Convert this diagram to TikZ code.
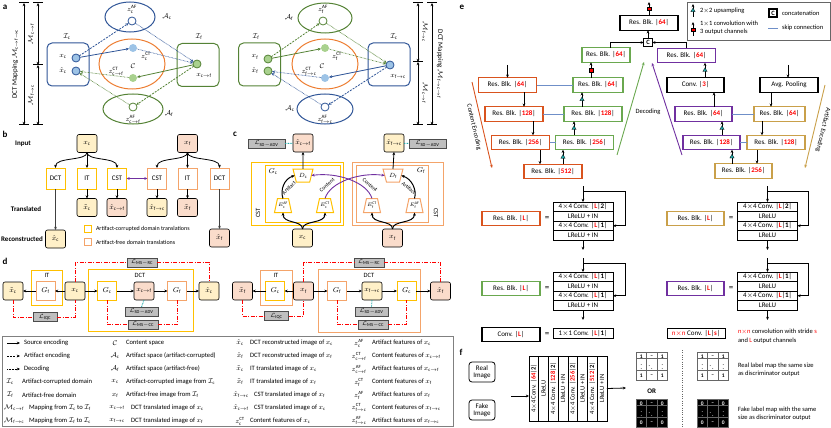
\documentclass[tikz,border=0pt]{standalone}
\usepackage{fontspec}
\setmainfont{Carlito}
\usepackage{amsmath}
\usetikzlibrary{arrows.meta,shapes.geometric,calc}
\definecolor{cblue}{HTML}{2F5597}
\definecolor{lblue}{HTML}{9DC3E6}
\definecolor{cgreen}{HTML}{548235}
\definecolor{lgreen}{HTML}{A9D18E}
\definecolor{corange}{HTML}{ED7D31}
\definecolor{cyel}{HTML}{FFC000}
\definecolor{fyel}{HTML}{FFF0C8}
\definecolor{cora}{HTML}{F4A46A}
\definecolor{fpink}{HTML}{FADCCB}
\definecolor{cpurp}{HTML}{7030A0}
\definecolor{cred}{HTML}{FF0000}
\definecolor{encred}{HTML}{D9531E}
\definecolor{decgreen}{HTML}{6AA84F}
\definecolor{gold}{HTML}{C9A04A}
\definecolor{lossfill}{HTML}{BFBFBF}
\definecolor{tealc}{HTML}{1FA8A8}
\definecolor{skipblue}{HTML}{6F8FC8}
\newcommand\myfs[1]{\fontsize{#1}{#1}\selectfont}
\newcommand\rd[1]{\textcolor{cred}{\textbf{#1}}}
\newcommand\resblk[1]{Res. Blk. |\rd{#1}|}
\newcommand\labgrid[6]{%
  \foreach \rr/\cc/\tv in {0/0/#6,0/1/{--},0/2/#6,1/0/{$\vdots$},1/1/{$\ddots$},1/2/{$\vdots$},2/0/#6,2/1/{--},2/2/#6}{
    \node[gcell, fill=#4, text=#5] (#1-\rr-\cc) at ({#2+5.25+10.5*\cc},{#3+4.65+9.3*\rr}) {\tv};
  }}
\begin{document}
\begin{tikzpicture}[x=1pt,y=-1pt,>={Stealth[length=3.2pt,width=2.8pt]},
 every node/.style={inner sep=0pt, outer sep=0pt},
 plab/.style={font=\bfseries\myfs{9}},
 ml/.style={font=\myfs{7}},
 lsym/.style={font=\myfs{6.8}},
 domrect/.style={draw=#1, line width=1pt, rounded corners=5pt, minimum width=42pt, minimum height=43pt},
 spc/.style={ellipse, draw=#1, line width=1pt},
 ptc/.style={circle, draw=#1, line width=0.8pt, minimum size=8pt},
 srcA/.style={->, line width=0.8pt, draw=#1},
 artA/.style={->, line width=0.8pt, draw=#1, dash pattern=on 2pt off 1.2pt},
 decA/.style={->, line width=0.7pt, draw=#1, dash pattern=on 0.6pt off 0.8pt},
 imgbox/.style={draw=black, line width=0.6pt, rounded corners=2pt, fill=#1, minimum width=20pt, minimum height=18pt, font=\myfs{7}},
 opbox/.style={draw=#1, line width=1pt, fill=white, minimum width=19pt, minimum height=21pt, font=\myfs{7}},
 gbox/.style={draw=#1, line width=1pt, fill=white, minimum width=19pt, minimum height=18.5pt, font=\myfs{7}},
 frm/.style={draw=#1, line width=1pt},
 loss/.style={draw=black!70, fill=lossfill, line width=0.6pt, minimum height=9pt, font=\myfs{6.5}},
 redl/.style={draw=cred, line width=0.8pt, dash pattern=on 4pt off 1.5pt on 1pt off 1.5pt},
 tealdot/.style={draw=tealc, line width=0.9pt, dash pattern=on 0.8pt off 0.8pt},
 blk/.style={->, line width=0.8pt},
 rbx/.style={draw=#1, line width=1.2pt, fill=white, minimum width=58pt, minimum height=14.5pt, font=\myfs{7}},
 scell/.style={draw=black, line width=0.7pt, fill=white, minimum width=60pt, minimum height=9.5pt, font=\myfs{7}},
 tri/.style={regular polygon, regular polygon sides=3, fill=tealc, draw=black, line width=0.3pt, minimum size=5pt},
 rsq/.style={fill=cred, draw=black, line width=0.3pt, minimum size=3.5pt},
 skipc/.style={draw=skipblue, line width=0.9pt},
 fcol/.style={draw=black, line width=0.7pt, minimum width=9.75pt, minimum height=65pt},
 gcell/.style={draw=black!60, line width=0.6pt, minimum width=10.5pt, minimum height=9.3pt, font=\bfseries\myfs{5.5}},
 leg/.style={font=\myfs{6.6}, anchor=west},
 trapD/.style={trapezium, draw=#1, line width=1pt, fill=white, shape border rotate=180, trapezium stretches=true, trapezium left angle=68, trapezium right angle=68, minimum width=20pt, minimum height=13pt, font=\myfs{6.5}},
 trapE/.style={trapezium, draw=#1, line width=1pt, fill=white, trapezium stretches=true, trapezium left angle=68, trapezium right angle=68, minimum width=17pt, minimum height=14pt, font=\myfs{5.5}},
]
\useasboundingbox (0,0) rectangle (831,428);

%================ PANEL A =================
\node[plab] (la) at (5,7) {a};
\coordinate (dl1t) at (24,3); \coordinate (dl1b) at (24,125);
\draw[line width=1pt] (19,3) -- (29,3) (19,125) -- (29,125);
\draw[<->, line width=0.8pt] (dl1t) -- (dl1b);
\coordinate (dl2t) at (38,3); \coordinate (dl2m) at (38,65); \coordinate (dl2b) at (38,125);
\draw[line width=1pt] (33,3) -- (43,3) (33,65) -- (43,65) (33,125) -- (43,125);
\draw[<->, line width=0.8pt] (dl2t) -- (dl2m);
\draw[<->, line width=0.8pt] (dl2m) -- (dl2b);
\node[rotate=90, ml] (dlt1) at (15,64) {DCT Mapping $\mathcal{M}_{\mathrm{c\to f\to c}}$};
\node[rotate=90, ml] (dlt2) at (31,34) {$\mathcal{M}_{\mathrm{c\to f}}$};
\node[rotate=90, ml] (dlt3) at (31,95) {$\mathcal{M}_{\mathrm{f\to c}}$};
\coordinate (dr1t) at (432,3); \coordinate (dr1b) at (432,125);
\draw[line width=1pt] (427,3) -- (437,3) (427,125) -- (437,125);
\draw[<->, line width=0.8pt] (dr1t) -- (dr1b);
\coordinate (dr2t) at (418,3); \coordinate (dr2m) at (418,62); \coordinate (dr2b) at (418,125);
\draw[line width=1pt] (413,3) -- (423,3) (413,62) -- (423,62) (413,125) -- (423,125);
\draw[<->, line width=0.8pt] (dr2t) -- (dr2m);
\draw[<->, line width=0.8pt] (dr2m) -- (dr2b);
\node[rotate=-90, ml] (drt1) at (440,64) {DCT Mapping $\mathcal{M}_{\mathrm{f\to c\to f}}$};
\node[rotate=-90, ml] (drt2) at (425,32) {$\mathcal{M}_{\mathrm{f\to c}}$};
\node[rotate=-90, ml] (drt3) at (425,93) {$\mathcal{M}_{\mathrm{c\to f}}$};

\node[domrect=cblue] (aIc) at (68,64.5) {};
\node[ml] (aIcl) at (67,37) {$\mathcal{I}_\mathrm{c}$};
\node[spc=cblue, minimum width=50pt, minimum height=30pt] (aAc) at (130,17) {};
\node[ml] (aAcl) at (167,17) {$\mathcal{A}_\mathrm{c}$};
\node[spc=corange, minimum width=66pt, minimum height=50pt] (aC) at (132,64) {};
\node[ml] (aCl) at (133,66) {$\mathcal{C}$};
\node[domrect=cgreen] (aIf) at (198,65) {};
\node[ml] (aIfl) at (199,37) {$\mathcal{I}_\mathrm{f}$};
\node[spc=cgreen, minimum width=60pt, minimum height=30pt] (aAf) at (133,109) {};
\node[ml] (aAfl) at (169,114) {$\mathcal{A}_\mathrm{f}$};

\node[ptc=cblue, fill=lblue] (axc) at (76,58) {};
\node[ptc=cblue, fill=lblue] (axhc) at (76,71) {};
\node[ml] (axcl) at (63,57) {$x_\mathrm{c}$};
\node[ml] (axhcl) at (63,71) {$\hat{x}_\mathrm{c}$};
\node[ptc=cblue, fill=white] (azcAF) at (132,21) {};
\node[ml] (azcAFl) at (132,9) {$z_\mathrm{c}^\mathrm{AF}$};
\node[circle, fill=lblue, minimum size=8pt] (azcCT) at (133,48) {};
\node[ml] (azcCTl) at (146,56) {$z_\mathrm{c}^\mathrm{CT}$};
\node[circle, fill=lgreen, minimum size=8pt] (azcfCT) at (133,78) {};
\node[ml] (azcfCTl) at (116,71) {$z_{\mathrm{c\to f}}^\mathrm{CT}$};
\node[ptc=cgreen, fill=lgreen] (axcf) at (197,64) {};
\node[ml] (axcfl) at (204,76) {$x_{\mathrm{c\to f}}$};
\node[ptc=cgreen, fill=white] (azcfAF) at (133,107) {};
\node[ml] (azcfAFl) at (133,119) {$z_{\mathrm{c\to f}}^\mathrm{AF}$};

\draw[artA=cblue] (axc) -- (azcAF);
\draw[srcA=cblue] (axc) -- (azcCT);
\draw[decA=cblue] (azcAF) -- (axcf);
\draw[decA=cblue] (azcCT) -- (axcf);
\draw[srcA=cgreen] (axcf) -- (azcfCT);
\draw[artA=cgreen] (axcf) -- (azcfAF);
\draw[decA=cgreen] (azcfCT) -- (axhc);
\draw[decA=cgreen] (azcfAF) -- (axhc);

\node[domrect=cgreen] (bIf) at (259.5,64.5) {};
\node[ml] (bIfl) at (256,37) {$\mathcal{I}_\mathrm{f}$};
\node[spc=cgreen, minimum width=54pt, minimum height=30pt] (bAf) at (325,18) {};
\node[ml] (bAfl) at (289,18) {$\mathcal{A}_\mathrm{f}$};
\node[spc=corange, minimum width=66pt, minimum height=50pt] (bC) at (325,64) {};
\node[ml] (bCl) at (322,66) {$\mathcal{C}$};
\node[domrect=cblue] (bIc) at (389,64.5) {};
\node[ml] (bIcl) at (394,37) {$\mathcal{I}_\mathrm{c}$};
\node[spc=cblue, minimum width=56pt, minimum height=30pt] (bAc) at (325,109) {};
\node[ml] (bAcl) at (290,109) {$\mathcal{A}_\mathrm{c}$};

\node[ptc=cgreen, fill=lgreen] (bxf) at (268,59) {};
\node[ptc=cgreen, fill=lgreen] (bxhf) at (268,71) {};
\node[ml] (bxfl) at (255,57) {$x_\mathrm{f}$};
\node[ml] (bxhfl) at (255,71) {$\hat{x}_\mathrm{f}$};
\node[ptc=cgreen, fill=white] (bzfAF) at (323,21) {};
\node[ml] (bzfAFl) at (323,9) {$z_\mathrm{f}^\mathrm{AF}$};
\node[circle, fill=lgreen, minimum size=8pt] (bzfCT) at (325,48) {};
\node[ml] (bzfCTl) at (337,56) {$z_\mathrm{f}^\mathrm{CT}$};
\node[circle, fill=lblue, minimum size=8pt] (bzfcCT) at (325,78) {};
\node[ml] (bzfcCTl) at (309,71) {$z_{\mathrm{f\to c}}^\mathrm{CT}$};
\node[ptc=cblue, fill=lblue] (bxfc) at (390,65) {};
\node[ml] (bxfcl) at (398,77) {$x_{\mathrm{f\to c}}$};
\node[ptc=cblue, fill=white] (bzfcAF) at (325,107) {};
\node[ml] (bzfcAFl) at (325,119) {$z_{\mathrm{f\to c}}^\mathrm{AF}$};

\draw[artA=cgreen] (bxf) -- (bzfAF);
\draw[srcA=cgreen] (bxf) -- (bzfCT);
\draw[decA=cgreen] (bzfAF) -- (bxfc);
\draw[decA=cgreen] (bzfCT) -- (bxfc);
\draw[srcA=cblue] (bxfc) -- (bzfcCT);
\draw[artA=cblue] (bxfc) -- (bzfcAF);
\draw[decA=cblue] (bzfcCT) -- (bxhf);
\draw[decA=cblue] (bzfcAF) -- (bxhf);

%================ PANEL B =================
\node[plab] (lb) at (5,134) {b};
\node[font=\bfseries\myfs{7}] (bInput) at (23,144) {Input};
\node[font=\bfseries\myfs{7}] (bTrans) at (26,209) {Translated};
\node[font=\bfseries\myfs{7}] (bRecon) at (22,239) {Reconstructed};

\node[imgbox=fyel] (pxc) at (87,143.5) {$x_\mathrm{c}$};
\node[imgbox=fpink] (pxf) at (187.5,143.5) {$x_\mathrm{f}$};
\node[opbox=cyel] (pdctc) at (55.5,178.5) {DCT};
\node[opbox=cyel] (pitc) at (87,178.5) {IT};
\node[opbox=cyel] (pcstc) at (117,178.5) {CST};
\node[opbox=cora] (pcstf) at (157,178.5) {CST};
\node[opbox=cora] (pitf) at (187.5,178.5) {IT};
\node[opbox=cora] (pdctf) at (219.5,178.5) {DCT};
\node[imgbox=fyel] (ptc) at (87,207.5) {$\tilde{x}_\mathrm{c}$};
\node[imgbox=fpink] (phcf) at (117,207.5) {$\hat{x}_{\mathrm{c\to f}}$};
\node[imgbox=fyel] (phfc) at (157,207.5) {$\hat{x}_{\mathrm{f\to c}}$};
\node[imgbox=fpink] (ptf) at (187.5,207.5) {$\tilde{x}_\mathrm{f}$};
\node[imgbox=fyel] (prc) at (55.5,239) {$\hat{x}_\mathrm{c}$};
\node[imgbox=fpink] (prf) at (219.5,238) {$\hat{x}_\mathrm{f}$};

\draw[blk] (pxc.south) .. controls (87,161) and (55.5,157) .. (pdctc.north);
\draw[blk] (pxc.south) -- (pitc.north);
\draw[blk] (pxc.south) .. controls (87,161) and (117,157) .. (pcstc.north);
\draw[blk] (pxf.south) .. controls (187.5,161) and (157,157) .. (pcstf.north);
\draw[blk] (pxf.south) -- (pitf.north);
\draw[blk] (pxf.south) .. controls (187.5,161) and (219.5,157) .. (pdctf.north);
\draw[blk] (pitc) -- (ptc);
\draw[blk] (pcstc) -- (phcf);
\draw[blk] (pcstf) -- (phfc);
\draw[blk] (pitf) -- (ptf);
\draw[->, line width=0.8pt, draw=black!75] (pdctc) -- (prc);
\draw[->, line width=0.8pt, draw=black!75] (pdctf) -- (prf);
\draw[<->, line width=1pt, draw=cpurp] (pcstc) -- (pcstf);

\node[draw=cyel, line width=0.9pt, minimum size=7pt] (pkey1) at (88,229) {};
\node[draw=cora, line width=0.9pt, minimum size=7pt] (pkey2) at (88,242) {};
\node[font=\myfs{6}, anchor=west] (pkey1t) at (96,229) {Artifact-corrupted domain translations};
\node[font=\myfs{6}, anchor=west] (pkey2t) at (96,242) {Artifact-free domain translations};

%================ PANEL C =================
\node[plab] (lc) at (235,134) {c};
\node[frm=cyel, minimum width=92pt, minimum height=63pt] (cfo1) at (297,193.5) {};
\node[frm=cyel, minimum width=75pt, minimum height=57pt] (cfi1) at (302.5,193.5) {};
\node[frm=cora, minimum width=91pt, minimum height=63pt] (cfo2) at (397.5,193.5) {};
\node[frm=cora, minimum width=72pt, minimum height=57pt] (cfi2) at (392,193.5) {};
\node[rotate=90, font=\myfs{6.5}, fill=white] (ccst1) at (258,213) {CST};
\node[rotate=-90, font=\myfs{6.5}, fill=white] (ccst2) at (436,213) {CST};
\node[ml] (cGc) at (273,172) {$G_\mathrm{c}$};
\node[ml] (cGf) at (421,171) {$G_\mathrm{f}$};

\node[loss, minimum width=37pt] (cL1) at (266.5,144) {$\mathcal{L}_{\mathrm{SD-ADV}}$};
\node[imgbox=fpink] (cxhcf) at (303,143) {$\hat{x}_{\mathrm{c\to f}}$};
\node[imgbox=fyel] (cxhfc) at (394,143) {$\hat{x}_{\mathrm{f\to c}}$};
\node[loss, minimum width=37pt] (cL2) at (427.5,144) {$\mathcal{L}_{\mathrm{SD-ADV}}$};
\draw[tealdot] (cL1) -- (cxhcf);
\draw[tealdot] (cxhfc) -- (cL2);

\node[trapD=cyel] (cDc) at (303,175.5) {$D_\mathrm{c}$};
\node[trapD=cora] (cDf) at (393,175.5) {$D_\mathrm{f}$};
\node[trapE=cyel] (cEcAF) at (283,205.5) {$E_\mathrm{c}^\mathrm{AF}$};
\node[trapE=cyel] (cEcCT) at (325,205.5) {$E_\mathrm{c}^\mathrm{CT}$};
\node[trapE=cora] (cEfCT) at (372,205.5) {$E_\mathrm{f}^\mathrm{CT}$};
\node[trapE=cora] (cEfAF) at (414.5,205.5) {$E_\mathrm{f}^\mathrm{AF}$};
\node[imgbox=fyel] (cxc) at (302.5,238) {$x_\mathrm{c}$};
\node[imgbox=fpink] (cxf) at (392.5,238) {$x_\mathrm{f}$};

\draw[blk] (cDc.north) -- (cxhcf.south);
\draw[blk] (cDf.north) -- (cxhfc.south);
\draw[->, line width=1pt] (cEcAF.north) .. controls (280,190) and (284,179) .. (cDc.west);
\draw[->, line width=1pt] (cEfAF.north) .. controls (417,190) and (412,179) .. (cDf.east);
\draw[->, line width=0.9pt, draw=cpurp] (cEcCT.north) .. controls (330,182) and (360,172) .. (cDf.west);
\draw[->, line width=0.9pt, draw=cpurp] (cEfCT.north) .. controls (367,182) and (337,172) .. (cDc.east);
\node[font=\myfs{5.5}, rotate=45] (cart1) at (289,188) {Artifact};
\node[font=\myfs{5.5}, rotate=40] (ccon1) at (327,185) {Content};
\node[font=\myfs{5.5}, rotate=-40] (ccon2) at (370,185) {Content};
\node[font=\myfs{5.5}, rotate=-40] (cart2) at (409,188) {Artifact};
\draw[->, line width=1pt] (cxc.north) .. controls (302.5,220) and (283,224) .. (cEcAF.south);
\draw[->, line width=1pt] (cxc.north) .. controls (302.5,220) and (325,224) .. (cEcCT.south);
\draw[->, line width=1pt] (cxf.north) .. controls (392.5,220) and (372,224) .. (cEfCT.south);
\draw[->, line width=1pt] (cxf.north) .. controls (392.5,220) and (414.5,224) .. (cEfAF.south);

%================ PANEL D =================
\node[plab] (ld) at (5,261) {d};
\node[frm=cyel, minimum width=31pt, minimum height=35pt] (dITc) at (46.5,287.5) {};
\node[font=\myfs{6.5}] (dITcl) at (47,275) {IT};
\node[frm=cyel, minimum width=105pt, minimum height=62pt] (dDCTc) at (140.5,300) {};
\node[font=\myfs{6.5}] (dDCTcl) at (140,275) {DCT};
\node[imgbox=fyel] (dxtc) at (13,291) {$\tilde{x}_\mathrm{c}$};
\node[gbox=cora] (dGf1) at (45.5,291) {$G_\mathrm{f}$};
\node[imgbox=fyel] (dxc) at (75,291) {$x_\mathrm{c}$};
\node[gbox=cyel] (dGc1) at (107,291) {$G_\mathrm{c}$};
\node[imgbox=fpink] (dxcf) at (144,291) {$x_{\mathrm{c\to f}}$};
\node[gbox=cora] (dGf2) at (177,291) {$G_\mathrm{f}$};
\node[imgbox=fyel] (dxhc) at (209,291) {$\hat{x}_\mathrm{c}$};
\draw[blk] (dxc) -- (dGf1); \draw[blk] (dGf1) -- (dxtc);
\draw[blk] (dxc) -- (dGc1); \draw[blk] (dGc1) -- (dxcf);
\draw[blk] (dxcf) -- (dGf2); \draw[blk] (dGf2) -- (dxhc);
\node[loss, minimum width=30pt] (dL1) at (142,262.5) {$\mathcal{L}_{\mathrm{MS-RC}}$};
\node[loss, minimum width=24pt] (dL2) at (45,317) {$\mathcal{L}_{\mathrm{IQC}}$};
\node[loss, minimum width=33pt] (dL3) at (141.5,311.5) {$\mathcal{L}_{\mathrm{SD-ADV}}$};
\node[loss, minimum width=30pt] (dL4) at (143,324.5) {$\mathcal{L}_{\mathrm{MS-CC}}$};
\draw[redl] (dxc.north) |- (dL1.west);
\draw[redl] (dL1.east) -| (dxhc.north);
\draw[redl] (dxtc.south) |- (dL2.west);
\draw[redl] (dL2.east) -| (dxc.south);
\draw[tealdot] (dxcf.south) -- (dL3.north);
\draw[redl] (dGc1.south) |- (dL4.west);
\draw[redl] (dL4.east) -| (dGf2.south);

\node[frm=cora, minimum width=32pt, minimum height=35pt] (dITf) at (276,287.5) {};
\node[font=\myfs{6.5}] (dITfl) at (276,275) {IT};
\node[frm=cora, minimum width=102pt, minimum height=63pt] (dDCTf) at (369,300.5) {};
\node[font=\myfs{6.5}] (dDCTfl) at (369,275) {DCT};
\node[imgbox=fpink] (dxtf) at (242.5,291) {$\tilde{x}_\mathrm{f}$};
\node[gbox=cyel] (dGc2) at (275,291) {$G_\mathrm{c}$};
\node[imgbox=fpink] (dxf) at (303.5,291) {$x_\mathrm{f}$};
\node[gbox=cora] (dGf3) at (337,291) {$G_\mathrm{f}$};
\node[imgbox=fyel] (dxfc) at (372,291) {$x_{\mathrm{f\to c}}$};
\node[gbox=cyel] (dGc3) at (406.5,291) {$G_\mathrm{c}$};
\node[imgbox=fpink] (dxhf) at (440.5,291) {$\hat{x}_\mathrm{f}$};
\draw[blk] (dxf) -- (dGc2); \draw[blk] (dGc2) -- (dxtf);
\draw[blk] (dxf) -- (dGf3); \draw[blk] (dGf3) -- (dxfc);
\draw[blk] (dxfc) -- (dGc3); \draw[blk] (dGc3) -- (dxhf);
\node[loss, minimum width=30pt] (dL5) at (369,262.5) {$\mathcal{L}_{\mathrm{MS-RC}}$};
\node[loss, minimum width=24pt] (dL6) at (276.5,316) {$\mathcal{L}_{\mathrm{IQC}}$};
\node[loss, minimum width=33pt] (dL7) at (371.5,311.5) {$\mathcal{L}_{\mathrm{SD-ADV}}$};
\node[loss, minimum width=30pt] (dL8) at (373,324.5) {$\mathcal{L}_{\mathrm{MS-CC}}$};
\draw[redl] (dxf.north) |- (dL5.west);
\draw[redl] (dL5.east) -| (dxhf.north);
\draw[redl] (dxtf.south) |- (dL6.west);
\draw[redl] (dL6.east) -| (dxf.south);
\draw[tealdot] (dxfc.south) -- (dL7.north);
\draw[redl] (dGf3.south) |- (dL8.west);
\draw[redl] (dL8.east) -| (dGc3.south);

%================ LEGEND =================
\node[draw=black!50, line width=0.8pt, minimum width=451pt, minimum height=90pt] (legbox) at (227.5,381) {};
\coordinate (lg1a) at (7,343); \coordinate (lg1b) at (20,343);
\coordinate (lg2a) at (7,356); \coordinate (lg2b) at (20,356);
\coordinate (lg3a) at (7,369); \coordinate (lg3b) at (20,369);
\draw[->, line width=1pt] (lg1a) -- (lg1b);
\draw[->, line width=1pt, dash pattern=on 2pt off 1.2pt] (lg2a) -- (lg2b);
\draw[->, line width=0.9pt, dash pattern=on 0.7pt off 0.8pt] (lg3a) -- (lg3b);
\node[leg] (lt11) at (24,343) {Source encoding};
\node[leg] (lt12) at (24,356) {Artifact encoding};
\node[leg] (lt13) at (24,369) {Decoding};
\node[lsym] (ls14) at (10,382) {$\mathcal{I}_\mathrm{c}$};
\node[leg] (lt14) at (22,382) {Artifact-corrupted domain};
\node[lsym] (ls15) at (10,395) {$\mathcal{I}_\mathrm{f}$};
\node[leg] (lt15) at (22,395) {Artifact-free domain};
\node[lsym] (ls16) at (14,407.5) {$\mathcal{M}_{\mathrm{c\to f}}$};
\node[leg] (lt16) at (29,407.5) {Mapping from $\mathcal{I}_\mathrm{c}$ to $\mathcal{I}_\mathrm{f}$};
\node[lsym] (ls17) at (14,420.5) {$\mathcal{M}_{\mathrm{f\to c}}$};
\node[leg] (lt17) at (29,420.5) {Mapping from $\mathcal{I}_\mathrm{f}$ to $\mathcal{I}_\mathrm{c}$};

\node[lsym] (ls21) at (115,343) {$\mathcal{C}$};
\node[leg] (lt21) at (126,343) {Content space};
\node[lsym] (ls22) at (115,356) {$\mathcal{A}_\mathrm{c}$};
\node[leg] (lt22) at (126,356) {Artifact space (artifact-corrupted)};
\node[lsym] (ls23) at (115,369) {$\mathcal{A}_\mathrm{f}$};
\node[leg] (lt23) at (126,369) {Artifact space (artifact-free)};
\node[lsym] (ls24) at (115,382) {$x_\mathrm{c}$};
\node[leg] (lt24) at (126,382) {Artifact-corrupted image from $\mathcal{I}_\mathrm{c}$};
\node[lsym] (ls25) at (115,395) {$x_\mathrm{f}$};
\node[leg] (lt25) at (126,395) {Artifact-free image from $\mathcal{I}_\mathrm{f}$};
\node[lsym] (ls26) at (117,407.5) {$x_{\mathrm{c\to f}}$};
\node[leg] (lt26) at (131,407.5) {DCT translated image of $x_\mathrm{c}$};
\node[lsym] (ls27) at (117,420.5) {$x_{\mathrm{f\to c}}$};
\node[leg] (lt27) at (131,420.5) {DCT translated image of $x_\mathrm{f}$};

\node[lsym] (ls31) at (240,343) {$\hat{x}_\mathrm{c}$};
\node[leg] (lt31) at (250,343) {DCT reconstructed image of $x_\mathrm{c}$};
\node[lsym] (ls32) at (240,356) {$\hat{x}_\mathrm{f}$};
\node[leg] (lt32) at (250,356) {DCT reconstructed image of $x_\mathrm{f}$};
\node[lsym] (ls33) at (240,369) {$\tilde{x}_\mathrm{c}$};
\node[leg] (lt33) at (250,369) {IT translated image of $x_\mathrm{c}$};
\node[lsym] (ls34) at (240,382) {$\tilde{x}_\mathrm{f}$};
\node[leg] (lt34) at (250,382) {IT translated image of $x_\mathrm{f}$};
\node[lsym] (ls35) at (241,395) {$\hat{x}_{\mathrm{f\to c}}$};
\node[leg] (lt35) at (254,395) {CST translated image of $x_\mathrm{f}$};
\node[lsym] (ls36) at (241,407.5) {$\hat{x}_{\mathrm{c\to f}}$};
\node[leg] (lt36) at (254,407.5) {CST translated image of $x_\mathrm{c}$};
\node[lsym] (ls37) at (240,421) {$z_\mathrm{c}^\mathrm{CT}$};
\node[leg] (lt37) at (250,420.5) {Content features of $x_\mathrm{c}$};

\node[lsym] (ls41) at (359,343) {$z_\mathrm{c}^\mathrm{AF}$};
\node[leg] (lt41) at (372,343) {Artifact features of $x_\mathrm{c}$};
\node[lsym] (ls42) at (359,356) {$z_{\mathrm{c\to f}}^\mathrm{CT}$};
\node[leg] (lt42) at (372,356) {Content features of $x_{\mathrm{c\to f}}$};
\node[lsym] (ls43) at (359,369) {$z_{\mathrm{c\to f}}^\mathrm{AF}$};
\node[leg] (lt43) at (372,369) {Artifact features of $x_{\mathrm{c\to f}}$};
\node[lsym] (ls44) at (359,382) {$z_\mathrm{f}^\mathrm{CT}$};
\node[leg] (lt44) at (372,382) {Content features of $x_\mathrm{f}$};
\node[lsym] (ls45) at (359,395) {$z_\mathrm{f}^\mathrm{AF}$};
\node[leg] (lt45) at (372,395) {Artifact features of $x_\mathrm{f}$};
\node[lsym] (ls46) at (359,407.5) {$z_{\mathrm{f\to c}}^\mathrm{CT}$};
\node[leg] (lt46) at (372,407.5) {Content features of $x_{\mathrm{f\to c}}$};
\node[lsym] (ls47) at (359,420.5) {$z_{\mathrm{f\to c}}^\mathrm{AF}$};
\node[leg] (lt47) at (372,420.5) {Artifact features of $x_{\mathrm{f\to c}}$};

%================ PANEL E =================
\node[plab] (le) at (462,7) {e};
\node[draw=black!60, line width=0.7pt, minimum width=143pt, minimum height=38pt] (eleg) at (758.5,21) {};
\coordinate (eu1) at (693,17); \coordinate (eu2) at (693,4);
\draw[blk] (eu1) -- node[tri] (eut) {} (eu2);
\node[font=\myfs{6.5}, anchor=west] (eut1) at (700,11) {2$\times$2 upsampling};
\coordinate (ec1) at (693,36); \coordinate (ec2) at (693,22);
\draw[blk] (ec1) -- node[rsq, pos=0.45] (ecs) {} (ec2);
\node[font=\myfs{6.5}, anchor=west] (ect1) at (700,24) {1$\times$1 convolution with};
\node[font=\myfs{6.5}, anchor=west] (ect2) at (700,32) {3 output channels};
\node[draw=black, line width=1.1pt, minimum size=8pt, font=\bfseries\myfs{6.5}] (ecat) at (773,13) {C};
\node[font=\myfs{6.5}, anchor=west] (ecatt) at (782,13) {concatenation};
\coordinate (esk1) at (768,28); \coordinate (esk2) at (778,28);
\draw[skipc] (esk1) -- (esk2);
\node[font=\myfs{6.5}, anchor=west] (eskt) at (782,28) {skip connection};

\node[rbx=black] (eTop) at (649,23) {\resblk{64}};
\coordinate (eOut) at (649,2);
\draw[blk] (eTop.north) -- node[rsq] (eOutSq) {} (eOut);
\node[draw=black, line width=1.1pt, fill=white, minimum size=8.5pt, font=\bfseries\myfs{6.5}] (eC) at (648,42.5) {C};
\draw[blk] (eC.north) -- (eTop.south -| eC.north);
\node[rbx=decgreen, minimum width=48pt] (eG64t) at (606,55) {\resblk{64}};
\node[rbx=cpurp] (eP64t) at (686.5,55.5) {\resblk{64}};
\draw[blk] ([xshift=4pt]eG64t.north) |- (eC.west);
\draw[blk] (eP64t.north) |- (eC.east);

\node[rbx=encred] (eR64) at (507.5,85) {\resblk{64}};
\node[rbx=encred] (eR128) at (514,114) {\resblk{128}};
\node[rbx=encred] (eR256) at (520.5,142.5) {\resblk{256}};
\node[rbx=encred] (eR512) at (553,171.5) {\resblk{512}};
\node[rbx=decgreen, minimum width=50pt] (eG64) at (598,85) {\resblk{64}};
\node[rbx=decgreen] (eG128) at (593,114) {\resblk{128}};
\node[rbx=decgreen] (eG256) at (584.5,142.5) {\resblk{256}};
\coordinate (eInC) at (507.5,65);
\draw[blk] (eInC) -- (eR64.north);
\draw[blk] ([xshift=16.5pt]eR64.south) -- ([xshift=10pt]eR128.north);
\draw[blk] ([xshift=19pt]eR128.south) -- ([xshift=12.5pt]eR256.north);
\draw[blk] ([xshift=19.5pt]eR256.south) -- ([xshift=-13pt]eR512.north);
\draw[blk] ([xshift=10pt]eR512.north) -- node[tri] (et1) {} ([xshift=-21.5pt]eG256.south);
\draw[blk] ([xshift=-10.5pt]eG256.north) -- node[tri] (et2) {} ([xshift=-19pt]eG128.south);
\draw[blk] ([xshift=-11pt]eG128.north) -- node[tri] (et3) {} ([xshift=-16pt]eG64.south);
\draw[blk] ([xshift=-7pt]eG64.north) -- node[rsq] (es1) {} ([xshift=-15pt]eG64t.south);
\draw[skipc] (eR64.east) -- (eG64.west);
\draw[skipc] (eR128.east) -- (eG128.west);
\draw[skipc] (eR256.east) -- (eG256.west);

\node[rbx=black, minimum width=57pt] (eConv) at (695.5,85) {Conv. |\rd{3}|};
\node[rbx=black] (eAvg) at (789,85) {Avg. Pooling};
\node[rbx=gold, minimum width=51pt] (eO64) at (779.5,114) {\resblk{64}};
\node[rbx=gold] (eO128) at (776,142.5) {\resblk{128}};
\node[rbx=gold, minimum width=57pt] (eO256) at (743.5,171) {\resblk{256}};
\node[rbx=cpurp, minimum width=57pt] (eP128) at (711.5,142.5) {\resblk{128}};
\node[rbx=cpurp, minimum width=57pt] (eP64) at (703.5,114) {\resblk{64}};
\coordinate (eInA) at (788,65);
\draw[blk] (eInA) -- ([xshift=-1pt]eAvg.north);
\draw[blk] ([xshift=-18pt]eAvg.south) -- ([xshift=-8.5pt]eO64.north);
\draw[blk] ([xshift=-17.5pt]eO64.south) -- ([xshift=-14pt]eO128.north);
\draw[blk] ([xshift=-19pt]eO128.south) -- ([xshift=13.5pt]eO256.north);
\draw[blk] ([xshift=-11.5pt]eO256.north) -- node[tri] (et4) {} ([xshift=20.5pt]eP128.south);
\draw[blk] ([xshift=10.5pt]eP128.north) -- node[tri] (et5) {} ([xshift=18.5pt]eP64.south);
\draw[blk] ([xshift=10.5pt]eP64.north) -- ([xshift=18.5pt]eConv.south);
\draw[blk] ([xshift=9.5pt]eConv.north) -- node[tri] (et6) {} ([xshift=18.5pt]eP64t.south);
\draw[skipc] (eP64.east) -- (eO64.west);
\draw[skipc] (eP128.east) -- (eO128.west);

\coordinate (ceA) at (472,82); \coordinate (ceB) at (492,168);
\draw[->, draw=encred, line width=0.9pt] (ceA) -- (ceB);
\node[font=\myfs{6.5}, rotate=-77] (ceT) at (474,127) {Content Encoding};
\coordinate (aeA) at (825,85); \coordinate (aeB) at (805,168);
\draw[->, draw=gold, line width=0.9pt] (aeA) -- (aeB);
\node[font=\myfs{6.5}, rotate=-103.5] (aeT) at (823,130) {Artifact Encoding};
\coordinate (dgA) at (617,155); \coordinate (dgB) at (644,62);
\draw[->, draw=decgreen, line width=0.9pt] (dgA) -- (dgB);
\coordinate (dpA) at (682,155); \coordinate (dpB) at (652,63);
\draw[->, draw=cpurp, line width=0.9pt] (dpA) -- (dpB);
\node[font=\myfs{6.5}] (dgT) at (648,112) {Decoding};

\node[rbx=encred] (eRL) at (511,218.5) {\resblk{L}};
\node[font=\myfs{9}] (eq1) at (547,218.5) {=};
\node[scell] (sr1) at (583,206.75) {4$\times$4 Conv. |\rd{L}|\textbf{2}|};
\node[scell] (sr2) at (583,216.25) {LReLU + IN};
\node[scell] (sr3) at (583,225.75) {4$\times$4 Conv. |\rd{L}|\textbf{1}|};
\node[scell] (sr4) at (583,235.25) {LReLU + IN};
\coordinate (sri) at (583,186); \coordinate (srb) at (583,191); \coordinate (srk) at (625,191);
\coordinate (sro) at (583,250);
\draw[blk] (sri) -- (sr1.north);
\draw[->, line width=0.8pt] (srb) -- (srk) |- (sr3.east);
\draw[blk] (sr4.south) -- (sro);

\node[rbx=decgreen] (eGL) at (511,288.5) {\resblk{L}};
\node[font=\myfs{9}] (eq2) at (547,288.5) {=};
\node[scell] (sg1) at (583,276.75) {4$\times$4 Conv. |\rd{L}|\textbf{1}|};
\node[scell] (sg2) at (583,286.25) {LReLU + IN};
\node[scell] (sg3) at (583,295.75) {4$\times$4 Conv. |\rd{L}|\textbf{1}|};
\node[scell] (sg4) at (583,305.25) {LReLU + IN};
\coordinate (sgi) at (583,258); \coordinate (sgb) at (583,263); \coordinate (sgk) at (625,263);
\coordinate (sgo) at (583,320);
\draw[blk] (sgi) -- (sg1.north);
\draw[->, line width=0.8pt] (sgb) -- (sgk) |- (sg3.east);
\draw[blk] (sg4.south) -- (sgo);

\node[rbx=black, line width=1.3pt] (eCL) at (511,334.5) {Conv. |\rd{L}|};
\node[font=\myfs{9}] (eq3) at (547,334.5) {=};
\node[scell] (sc1) at (583,333.5) {1$\times$1 Conv. |\rd{L}|\textbf{1}|};

\node[rbx=gold, minimum width=57pt] (eOL) at (695.5,218.5) {\resblk{L}};
\node[font=\myfs{9}] (eq4) at (731,218.5) {=};
\node[scell] (so1) at (767.5,206.75) {4$\times$4 Conv. |\rd{L}|\textbf{2}|};
\node[scell] (so2) at (767.5,216.25) {LReLU};
\node[scell] (so3) at (767.5,225.75) {4$\times$4 Conv. |\rd{L}|\textbf{1}|};
\node[scell] (so4) at (767.5,235.25) {LReLU};
\coordinate (soi) at (767.5,186); \coordinate (sob) at (767.5,191); \coordinate (sok) at (808,191);
\coordinate (soo) at (767.5,250);
\draw[blk] (soi) -- (so1.north);
\draw[->, line width=0.8pt] (sob) -- (sok) |- (so3.east);
\draw[blk] (so4.south) -- (soo);

\node[rbx=cpurp, minimum width=57pt] (ePL) at (695.5,288.5) {\resblk{L}};
\node[font=\myfs{9}] (eq5) at (731,288.5) {=};
\node[scell] (sp1) at (767.5,276.75) {4$\times$4 Conv. |\rd{L}|\textbf{1}|};
\node[scell] (sp2) at (767.5,286.25) {LReLU};
\node[scell] (sp3) at (767.5,295.75) {4$\times$4 Conv. |\rd{L}|\textbf{1}|};
\node[scell] (sp4) at (767.5,305.25) {LReLU};
\coordinate (spi) at (767.5,258); \coordinate (spb) at (767.5,263); \coordinate (spk) at (808,263);
\coordinate (spo) at (767.5,320);
\draw[blk] (spi) -- (sp1.north);
\draw[->, line width=0.8pt] (spb) -- (spk) |- (sp3.east);
\draw[blk] (sp4.south) -- (spo);

\node[scell, minimum width=58pt] (snn) at (696,333.5) {\textcolor{cred}{n$\times$n} Conv. |\rd{L}|\rd{s}|};
\node[font=\myfs{6.5}, anchor=west] (snt1) at (738,332) {\textcolor{cred}{n$\times$n} convolution with stride \textcolor{cred}{s}};
\node[font=\myfs{6.5}, anchor=west] (snt2) at (738,340.5) {and \textcolor{cred}{L} output channels};

%================ PANEL F =================
\node[plab] (lf) at (461,352) {f};
\node[draw=black, line width=0.8pt, rounded corners=3pt, minimum width=26pt, minimum height=20pt, align=center, font=\myfs{7}] (fReal) at (482,372) {Real\\Image};
\node[draw=black, line width=0.8pt, rounded corners=3pt, minimum width=26pt, minimum height=20pt, align=center, font=\myfs{7}] (fFake) at (482,410) {Fake\\Image};
\node[fcol] (fc1) at (533.9,388.5) {};
\node[fcol] (fc2) at (543.6,388.5) {};
\node[fcol] (fc3) at (553.4,388.5) {};
\node[fcol] (fc4) at (563.1,388.5) {};
\node[fcol] (fc5) at (572.9,388.5) {};
\node[fcol] (fc6) at (582.6,388.5) {};
\node[fcol] (fc7) at (592.4,388.5) {};
\node[fcol] (fc8) at (602.1,388.5) {};
\node[rotate=90, font=\myfs{6.5}] (ft1) at (fc1) {4$\times$4 Conv. |\rd{64}|\textbf{2}|};
\node[rotate=90, font=\myfs{6.5}] (ft2) at (fc2) {LReLU};
\node[rotate=90, font=\myfs{6.5}] (ft3) at (fc3) {4$\times$4 Conv. |\rd{128}|\textbf{2}|};
\node[rotate=90, font=\myfs{6.5}] (ft4) at (fc4) {LReLU + IN};
\node[rotate=90, font=\myfs{6.5}] (ft5) at (fc5) {4$\times$4 Conv. |\rd{256}|\textbf{2}|};
\node[rotate=90, font=\myfs{6.5}] (ft6) at (fc6) {LReLU + IN};
\node[rotate=90, font=\myfs{6.5}] (ft7) at (fc7) {4$\times$4 Conv. |\rd{512}|\textbf{2}|};
\node[rotate=90, font=\myfs{6.5}] (ft8) at (fc8) {LReLU + IN};
\coordinate (fin) at (511,396);
\draw[blk] (fin) -- (fin -| fc1.west);
\coordinate (fout) at (626,388);
\draw[blk] (fc8.east) -- (fout);
\labgrid{gA}{636}{352}{white}{black}{1}
\labgrid{gB}{636}{399}{black}{white}{0}
\labgrid{gC}{697}{352}{white}{black}{1}
\labgrid{gD}{697}{399}{black}{white}{0}
\node[font=\bfseries\myfs{7}] (fOR) at (651.75,391) {OR};
\coordinate (fd1) at (682,350); \coordinate (fd2) at (682,428);
\draw[black!60, line width=0.7pt, dash pattern=on 0.8pt off 1.5pt] (fd1) -- (fd2);
\node[font=\myfs{6.5}, anchor=west] (fr1) at (738,366) {Real label map the same size};
\node[font=\myfs{6.5}, anchor=west] (fr2) at (738,374) {as discriminator output};
\node[font=\myfs{6.5}, anchor=west] (ff1) at (738,410) {Fake label map with the same};
\node[font=\myfs{6.5}, anchor=west] (ff2) at (738,418) {size as discriminator output};
\end{tikzpicture}
\end{document}
